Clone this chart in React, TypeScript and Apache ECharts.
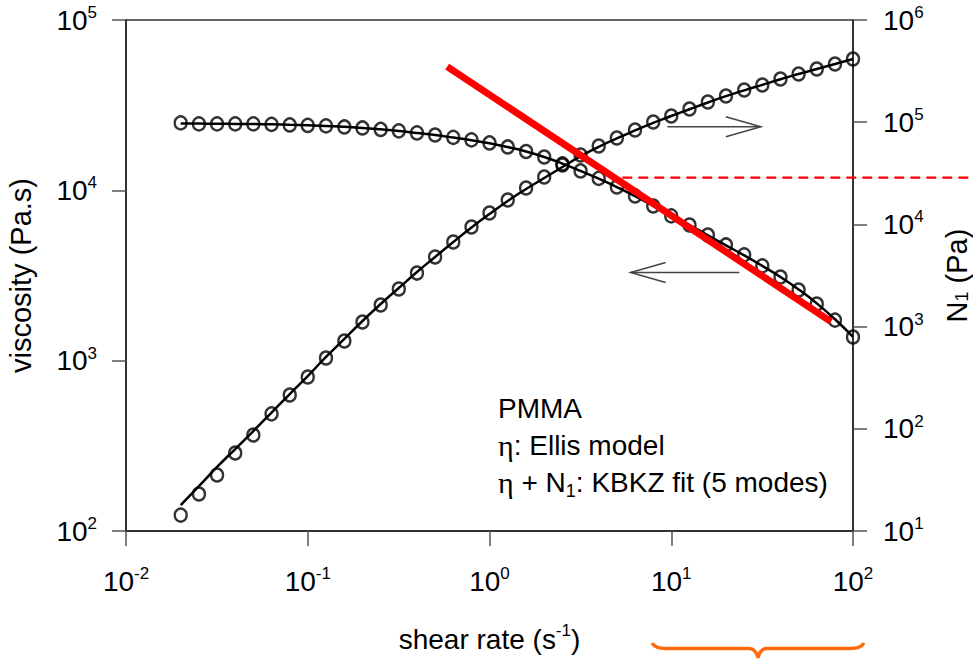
import React, { useEffect, useRef } from 'react';
import * as echarts from 'echarts';

// ---------------- data ----------------
const shearRate = [
  0.02, 0.0252, 0.0317, 0.0399, 0.0502, 0.0632, 0.0796, 0.1, 0.126, 0.159,
  0.2, 0.252, 0.317, 0.399, 0.502, 0.632, 0.796, 1.0, 1.26, 1.59,
  2.0, 2.52, 3.17, 3.99, 5.02, 6.32, 7.96, 10.0, 12.6, 15.9,
  20.0, 25.2, 31.7, 39.9, 50.2, 63.2, 79.6, 100,
];
const viscosity = [
  24880, 24550, 24550, 24550, 24550, 24380, 24210, 24050, 23890, 23560,
  23240, 22780, 22340, 21730, 21140, 20460, 19770, 18980, 17980, 16910,
  15700, 14290, 13000, 11750, 10470, 9270, 8090, 7080, 6260, 5470,
  4780, 4180, 3600, 3100, 2600, 2150, 1730, 1377,
];
const viscosityFit = [
  24700, 24650, 24600, 24550, 24500, 24400, 24250, 24100, 23900, 23600,
  23250, 22800, 22300, 21700, 21100, 20400, 19700, 18900, 17950, 16900,
  15700, 14350, 13000, 11700, 10450, 9250, 8100, 7100, 6250, 5450,
  4750, 4150, 3600, 3100, 2620, 2170, 1750, 1380,
];
const n1 = [
  14.3, 23.0, 35.3, 58.0, 87, 140, 214, 321, 493, 723,
  1109, 1626, 2333, 3342, 4797, 6730, 9440, 12940, 17340, 22720,
  29100, 38100, 47800, 58500, 70000, 83900, 100400, 115000, 134700, 157700,
  180400, 206600, 231200, 264700, 296300, 331700, 370900, 415000,
];
const n1Fit = [
  17.9, 27.5, 42.3, 63.4, 95.1, 144, 219, 328, 505, 757,
  1135, 1665, 2388, 3423, 4797, 6730, 9330, 12650, 16950, 22200,
  28420, 36450, 46500, 57500, 69500, 83000, 98500, 115000, 134000, 156000,
  180000, 205000, 232000, 263000, 296000, 332000, 371000, 415000,
];
const powerLawRate = [0.585, 75.7];
const powerLawViscosity = [53240, 1695];
const criticalRate = 5.38;
const criticalViscosity = 11875;
const n1ArrowRate = [9.53, 31.1];
const n1ArrowLevel = 90400;
const viscArrowRate = [23.7, 5.98];
const viscArrowLevel = 3290;
const annotationLines = ['PMMA', '{g|η}: Ellis model', '{g|η} + N{sub|1}: KBKZ fit (5 modes)'];

const FONT = '"Liberation Sans", Arial, sans-serif';
const SERIF = '"Liberation Serif", "DejaVu Serif", serif';

echarts.graphic.registerShape(
  'brace',
  echarts.graphic.extendPath(
    'M0,0 Q3,5.5 14,5.5 L97,5.5 Q104,5.5 106,15 Q108,5.5 115,5.5 L198,5.5 Q209,5.5 212,0',
    {}
  )
);

const powLabel = (v: number) => {
  const e = Math.round(Math.log10(v));
  return `{b|10}{s|${e}}`;
};
const tickRich = {
  b: { fontSize: 28, fontFamily: FONT, color: '#000', lineHeight: 32 },
  s: { fontSize: 17, fontFamily: FONT, color: '#000', lineHeight: 22, verticalAlign: 'top' },
};
const axisLineStyle = { color: '#222', width: 1.5 };
const tickStyle = { color: '#555', width: 1.5 };

export default function App() {
  const ref = useRef<HTMLDivElement>(null);
  useEffect(() => {
    if (!ref.current) return;
    const chart = echarts.init(ref.current, null, { renderer: 'svg' });
    const pair = (xs: number[], ys: number[]) => xs.map((x, i) => [x, ys[i]]);
    const option: any = {
      animation: false,
      backgroundColor: '#fff',
      grid: {
        left: 126, right: 120, top: 20, bottom: 128, show: true, borderColor: '#333', borderWidth: 1.5,
        containLabel: false, outerBoundsMode: 'none',
      },
      xAxis: {
        type: 'log', logBase: 10, min: 0.01, max: 100,
        name: '{a|shear rate (s}{s|-1}{a|)}',
        nameLocation: 'middle', nameGap: 91,
        nameTextStyle: {
          rich: {
            a: { fontSize: 28, fontFamily: FONT, color: '#000', lineHeight: 34 },
            s: { fontSize: 17, fontFamily: FONT, color: '#000', lineHeight: 22, verticalAlign: 'top' },
          },
        },
        axisLine: { show: true, lineStyle: axisLineStyle },
        axisTick: { show: true, inside: false, length: 15, lineStyle: tickStyle },
        minorTick: { show: false },
        splitLine: { show: false },
        axisLabel: { formatter: powLabel, margin: 34, fontSize: 28, rich: tickRich },
      },
      yAxis: [
        {
          type: 'log', logBase: 10, min: 100, max: 100000, position: 'left',
          name: 'viscosity (Pa.s)', nameLocation: 'middle', nameRotate: 90, nameGap: 88,
          nameTextStyle: { fontSize: 29, fontFamily: FONT, color: '#000', lineHeight: 34 },
          axisLine: { show: true, lineStyle: axisLineStyle },
          axisTick: { show: true, inside: false, length: 14, lineStyle: tickStyle },
          splitLine: { show: false },
          axisLabel: { formatter: powLabel, margin: 29, fontSize: 28, rich: tickRich },
        },
        {
          type: 'log', logBase: 10, min: 10, max: 1000000, position: 'right',
          name: '{a|N}{sub|1}{a| (Pa)}', nameLocation: 'middle', nameRotate: 90, nameGap: 90,
          nameTextStyle: {
            rich: {
              a: { fontSize: 29, fontFamily: FONT, color: '#000', lineHeight: 28 },
              sub: { fontSize: 18, fontFamily: FONT, color: '#000', lineHeight: 14, verticalAlign: 'bottom' },
            },
          },
          axisLine: { show: true, lineStyle: axisLineStyle },
          axisTick: { show: true, inside: false, length: 14, lineStyle: tickStyle },
          splitLine: { show: false },
          axisLabel: { formatter: powLabel, margin: 30, fontSize: 28, rich: tickRich },
        },
      ],
      series: [
        {
          name: 'viscosity fit', type: 'line', yAxisIndex: 0, data: pair(shearRate, viscosityFit),
          showSymbol: false, smooth: true, lineStyle: { color: '#000', width: 2.5 }, z: 2,
        },
        {
          name: 'N1 fit', type: 'line', yAxisIndex: 1, data: pair(shearRate, n1Fit),
          showSymbol: false, smooth: true, lineStyle: { color: '#000', width: 2.5 }, z: 2,
        },
        {
          name: 'viscosity', type: 'scatter', yAxisIndex: 0, data: pair(shearRate, viscosity),
          symbol: 'circle', symbolSize: [12, 13],
          itemStyle: { color: 'rgba(0,0,0,0)', borderColor: '#000', borderWidth: 2.4 }, z: 3,
        },
        {
          name: 'N1', type: 'scatter', yAxisIndex: 1, data: pair(shearRate, n1),
          symbol: 'circle', symbolSize: [12, 13],
          itemStyle: { color: 'rgba(0,0,0,0)', borderColor: '#000', borderWidth: 2.4 }, z: 3,
        },
        {
          name: 'power law', type: 'line', yAxisIndex: 0, data: pair(powerLawRate, powerLawViscosity),
          showSymbol: false, lineStyle: { color: '#FF0000', width: 7, cap: 'butt' }, z: 5,
        },
      ],
    };
    chart.setOption(option);

    const px = (v: number) => chart.convertToPixel({ xAxisIndex: 0 } as any, v) as unknown as number;
    const pyL = (v: number) => chart.convertToPixel({ yAxisIndex: 0 } as any, v) as unknown as number;
    const pyR = (v: number) => chart.convertToPixel({ yAxisIndex: 1 } as any, v) as unknown as number;
    const W = chart.getWidth();

    const arrow = (x1: number, x2: number, y: number) => {
      const dir = x2 > x1 ? 1 : -1;
      return [
        { type: 'line', shape: { x1, y1: y, x2, y2: y }, style: { stroke: '#444', lineWidth: 1.5 } },
        {
          type: 'polyline',
          shape: { points: [[x2 - dir * 35, y - 10], [x2, y], [x2 - dir * 35, y + 10]] },
          style: { stroke: '#444', lineWidth: 1.5, fill: null },
        },
      ];
    };

    const cy = pyL(criticalViscosity);
    const textY = [408, 445.5, 482.5];
    const graphic: any[] = [
      {
        type: 'line',
        shape: { x1: px(criticalRate), y1: cy, x2: W, y2: cy },
        style: { stroke: '#FF0000', lineWidth: 2.2, lineDash: [10, 6] },
        z: 10,
      },
      ...arrow(px(n1ArrowRate[0]), px(n1ArrowRate[1]), pyR(n1ArrowLevel)),
      ...arrow(px(viscArrowRate[0]), px(viscArrowRate[1]), pyL(viscArrowLevel)),
      {
        type: 'brace', x: 652, y: 643,
        style: { stroke: '#FF6A0A', fill: 'none', lineWidth: 3.5 },
      },
      ...annotationLines.map((t, i) => ({
        type: 'text', x: 498, y: textY[i],
        style: {
          text: t,
          fontSize: 28, fontFamily: FONT, fill: '#000', verticalAlign: 'middle', align: 'left',
          rich: {
            g: { fontSize: 30, fontFamily: SERIF, lineHeight: 34 },
            sub: { fontSize: 18, fontFamily: FONT, lineHeight: 14, verticalAlign: 'bottom' },
          },
        },
      })),
    ];
    chart.setOption({ graphic });

    return () => chart.dispose();
  }, []);
  return <div ref={ref} style={{ position: 'fixed', left: 0, top: 0, width: 973, height: 659, background: '#fff' }} />;
}
